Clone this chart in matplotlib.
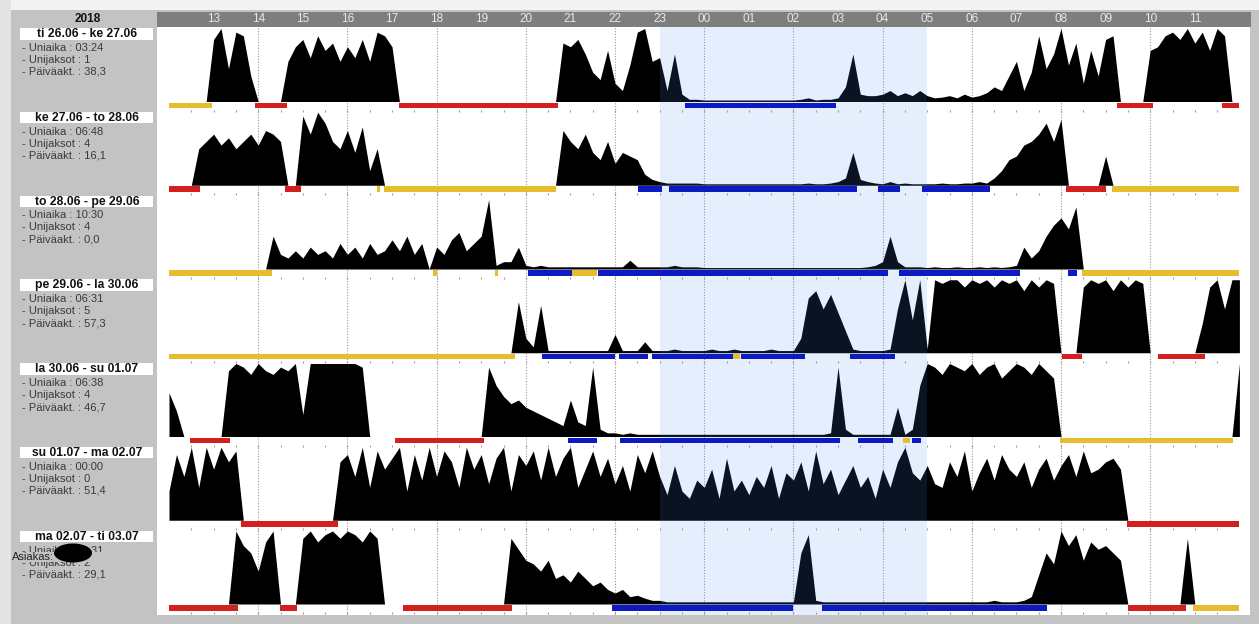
import numpy as np
import matplotlib
matplotlib.use("Agg")
import matplotlib.pyplot as plt
from matplotlib.patches import Rectangle, Ellipse

plt.rcParams['font.family'] = ['Liberation Sans', 'DejaVu Sans']

# --- data -------------------------------------------------------------
year = "2018"
hour_labels = ["13", "14", "15", "16", "17", "18", "19", "20", "21", "22", "23",
               "00", "01", "02", "03", "04", "05", "06", "07", "08", "09", "10", "11"]

day_titles = ["ti 26.06 - ke 27.06", "ke 27.06 - to 28.06", "to 28.06 - pe 29.06",
              "pe 29.06 - la 30.06", "la 30.06 - su 01.07", "su 01.07 - ma 02.07",
              "ma 02.07 - ti 03.07"]
sleep_time = ["03:24", "06:48", "10:30", "06:31", "06:38", "00:00", "08:31"]
sleep_periods = ["1", "4", "4", "5", "4", "0", "2"]
day_activity = ["38,3", "16,1", "0,0", "57,3", "46,7", "51,4", "29,1"]

# activity (% of row height), one value per 10 min from 12:00 to 12:00
act_1 = [0, 0, 0, 0, 0, 0,            # 12
         85, 100, 45, 95, 90, 35,     # 13
         0, 0, 0, 0, 55, 75,          # 14
         85, 60, 90, 70, 80, 55,      # 15
         75, 60, 85, 55, 95, 90,      # 16
         75, 0, 0, 0, 0, 0,           # 17
         0, 0, 0, 0, 0, 0,            # 18
         0, 0, 0, 0, 0, 0,            # 19
         0, 0, 0, 0, 0, 80,           # 20
         75, 85, 65, 40, 30, 70,      # 21
         25, 15, 50, 95, 100, 55,     # 22
         60, 15, 65, 10, 3, 3,        # 23
         2, 2, 2, 2, 2, 2,            # 00
         2, 2, 2, 2, 2, 2,            # 01
         2, 3, 5, 2, 3, 3,            # 02
         5, 20, 65, 10, 8, 8,         # 03
         10, 15, 8, 12, 8, 15,        # 04
         8, 5, 6, 8, 5, 10,           # 05
         6, 8, 12, 20, 15, 35,        # 06
         55, 15, 40, 90, 45, 65,      # 07
         100, 50, 80, 25, 70, 35,     # 08
         85, 90, 0, 0, 0, 0,          # 09
         70, 75, 90, 95, 85, 100,     # 10
         80, 95, 70, 100, 90, 0,      # 11
         0]
act_2 = [0, 0, 0, 0, 50, 60,
         70, 55, 65, 50, 60, 70,
         55, 75, 70, 60, 0, 0,
         95, 70, 100, 85, 60, 50,
         75, 45, 80, 20, 50, 0,
         0, 0, 0, 0, 0, 0,
         0, 0, 0, 0, 0, 0,
         0, 0, 0, 0, 0, 0,
         0, 0, 0, 0, 0, 75,
         60, 50, 70, 45, 35, 60,
         30, 45, 40, 35, 15, 8,
         5, 3, 3, 3, 3, 3,
         2, 2, 2, 2, 2, 2,
         2, 2, 2, 2, 2, 2,
         2, 2, 3, 2, 2, 3,
         5, 10, 45, 8, 5, 3,
         2, 5, 2, 3, 2, 2,
         2, 2, 3, 2, 2, 3,
         3, 5, 3, 10, 20, 35,
         40, 55, 60, 70, 85, 60,
         90, 0, 0, 0, 0, 0,
         40, 0, 0, 0, 0, 0,
         0, 0, 0, 0, 0, 0,
         0, 0, 0, 0, 0, 0,
         0]
act_3 = [0, 0, 0, 0, 0, 0,
         0, 0, 0, 0, 0, 0,
         0, 0, 45, 20, 15, 25,
         15, 30, 20, 25, 15, 35,
         20, 30, 15, 35, 20, 25,
         40, 25, 45, 20, 35, 0,
         30, 20, 40, 50, 25, 35,
         45, 95, 5, 10, 10, 30,
         5, 3, 5, 3, 3, 3,
         3, 3, 3, 3, 3, 3,
         3, 3, 12, 3, 3, 3,
         3, 3, 5, 3, 3, 3,
         2, 2, 2, 2, 2, 2,
         2, 2, 2, 2, 2, 2,
         2, 2, 2, 2, 2, 2,
         2, 2, 2, 2, 3, 5,
         10, 45, 10, 3, 3, 3,
         2, 3, 2, 2, 3, 2,
         2, 3, 2, 3, 2, 3,
         5, 30, 15, 25, 45, 60,
         70, 55, 85, 0, 0, 0,
         0, 0, 0, 0, 0, 0,
         0, 0, 0, 0, 0, 0,
         0, 0, 0, 0, 0, 0,
         0]
act_4 = [0, 0, 0, 0, 0, 0,
         0, 0, 0, 0, 0, 0,
         0, 0, 0, 0, 0, 0,
         0, 0, 0, 0, 0, 0,
         0, 0, 0, 0, 0, 0,
         0, 0, 0, 0, 0, 0,
         0, 0, 0, 0, 0, 0,
         0, 0, 0, 0, 0, 70,
         20, 8, 65, 3, 3, 3,
         3, 3, 3, 3, 3, 3,
         25, 3, 3, 3, 15, 3,
         3, 3, 5, 3, 3, 3,
         3, 5, 3, 3, 5, 3,
         3, 3, 3, 5, 3, 3,
         3, 20, 75, 85, 60, 80,
         55, 30, 5, 3, 3, 3,
         3, 5, 60, 100, 45, 100,
         5, 100, 95, 100, 100, 90,
         100, 95, 100, 90, 100, 95,
         100, 85, 100, 90, 100, 95,
         0, 0, 0, 90, 100, 95,
         100, 85, 100, 90, 100, 95,
         0, 0, 0, 0, 0, 0,
         0, 40, 90, 100, 60, 100,
         100]
act_5 = [60, 35, 0, 0, 0, 0,
         0, 0, 90, 100, 95, 85,
         100, 90, 85, 95, 90, 100,
         30, 100, 100, 100, 100, 100,
         100, 100, 95, 0, 0, 0,
         0, 0, 0, 0, 0, 0,
         0, 0, 0, 0, 0, 0,
         0, 95, 70, 55, 45, 50,
         40, 35, 30, 25, 20, 15,
         50, 20, 15, 95, 10, 5,
         5, 3, 5, 3, 3, 3,
         3, 3, 3, 3, 3, 3,
         3, 3, 3, 3, 3, 3,
         3, 3, 3, 3, 3, 3,
         3, 3, 3, 3, 3, 5,
         95, 10, 3, 3, 3, 3,
         3, 3, 40, 3, 10, 70,
         100, 95, 85, 100, 95, 90,
         100, 85, 95, 100, 80, 90,
         100, 95, 85, 100, 90, 80,
         0, 0, 0, 0, 0, 0,
         0, 0, 0, 0, 0, 0,
         0, 0, 0, 0, 0, 0,
         0, 0, 0, 0, 0, 0,
         100]
act_6 = [40, 90, 60, 100, 45, 100,
         70, 100, 80, 95, 0, 0,
         0, 0, 0, 0, 0, 0,
         0, 0, 0, 0, 0, 80,
         90, 60, 100, 45, 95, 70,
         85, 100, 40, 90, 55, 100,
         60, 95, 80, 45, 100, 70,
         90, 50, 85, 100, 40, 90,
         75, 95, 55, 100, 60, 85,
         100, 45, 70, 95, 60, 85,
         50, 75, 40, 90, 65, 95,
         60, 35, 75, 40, 30, 55,
         45, 70, 30, 85, 40, 55,
         35, 60, 45, 75, 30, 65,
         55, 80, 40, 95, 50, 70,
         35, 55, 75, 45, 60, 30,
         70, 45, 80, 100, 65, 55,
         75, 50, 45, 80, 60, 95,
         40, 65, 85, 55, 90, 70,
         60, 80, 45, 70, 85, 55,
         75, 90, 60, 95, 65, 70,
         80, 85, 70, 0, 0, 0,
         0, 0, 0, 0, 0, 0,
         0, 0, 0, 0, 0, 0,
         0]
act_7 = [0, 0, 0, 0, 0, 0,
         0, 0, 0, 100, 80, 70,
         45, 85, 100, 0, 0, 0,
         90, 100, 85, 95, 100, 90,
         100, 95, 85, 100, 90, 0,
         0, 0, 0, 0, 0, 0,
         0, 0, 0, 0, 0, 0,
         0, 0, 0, 0, 90, 75,
         60, 55, 45, 60, 35, 40,
         30, 45, 35, 25, 30, 20,
         15, 20, 10, 12, 8, 5,
         5, 3, 3, 3, 3, 3,
         3, 3, 3, 3, 3, 3,
         3, 3, 3, 3, 3, 3,
         3, 70, 95, 5, 3, 3,
         3, 3, 3, 3, 3, 3,
         3, 3, 3, 3, 3, 3,
         3, 3, 3, 3, 3, 3,
         3, 3, 3, 5, 3, 3,
         3, 5, 10, 40, 70, 55,
         100, 80, 95, 60, 85, 75,
         80, 70, 60, 0, 0, 0,
         0, 0, 0, 0, 0, 90,
         0, 0, 0, 0, 0, 0,
         0]
activity = [act_1, act_2, act_3, act_4, act_5, act_6, act_7]

# state bars: (start, end) in hours after 12:00
# Y = up / awake, R = off-wrist, B = sleep
bars_1 = [("Y", 0, 0.96), ("R", 1.93, 2.65), ("R", 5.16, 8.72), ("B", 11.57, 14.96),
          ("R", 21.26, 22.06), ("R", 23.61, 24.0)]
bars_2 = [("R", 0, 0.70), ("R", 2.60, 2.96), ("Y", 4.66, 4.73), ("Y", 4.82, 8.68),
          ("B", 10.52, 11.05), ("B", 11.21, 15.42), ("B", 15.90, 16.39), ("B", 16.88, 18.41),
          ("R", 20.11, 21.0), ("Y", 21.14, 24.0)]
bars_3 = [("Y", 0, 2.31), ("Y", 5.92, 6.0), ("Y", 7.31, 7.38), ("B", 8.05, 9.04),
          ("Y", 9.04, 9.60), ("B", 9.62, 16.12), ("B", 16.37, 19.08), ("B", 20.16, 20.36),
          ("Y", 20.47, 24.0)]
bars_4 = [("Y", 0, 7.76), ("B", 8.36, 10.0), ("B", 10.09, 10.74), ("B", 10.83, 12.64),
          ("Y", 12.65, 12.80), ("B", 12.83, 14.26), ("B", 15.27, 16.28), ("R", 20.02, 20.47),
          ("R", 22.17, 23.23)]
bars_5 = [("R", 0.47, 1.37), ("R", 5.07, 7.06), ("B", 8.95, 9.60), ("B", 10.11, 15.04),
          ("B", 15.45, 16.23), ("Y", 16.46, 16.61), ("B", 16.66, 16.86), ("Y", 19.98, 23.86)]
bars_6 = [("R", 1.61, 3.79), ("R", 21.48, 24.0)]
bars_7 = [("R", 0, 1.55), ("R", 2.49, 2.87), ("R", 5.25, 7.69), ("B", 9.93, 13.99),
          ("B", 14.64, 19.69), ("R", 21.50, 22.80), ("Y", 22.96, 24.0)]
state_bars = [bars_1, bars_2, bars_3, bars_4, bars_5, bars_6, bars_7]

bar_colors = {"Y": "#e6bd2c", "R": "#d41f1f", "B": "#0d19c2"}

# --- layout (pixels) --------------------------------------------------
W, H = 1259, 624
ROW0, ROW_STEP, ACT_H = 28.0, 83.75, 73.0
X0, PX_PER_H = 169.0, 44.6


def to_h(px):
    return (px - X0) / PX_PER_H


def px_axes(x0, y0, x1, y1):
    return fig.add_axes([x0 / W, 1 - y1 / H, (x1 - x0) / W, (y1 - y0) / H])


fig = plt.figure(figsize=(W / 100, H / 100), dpi=100, facecolor="#c3c3c3")

bg = px_axes(0, 0, W, H)
bg.set_xlim(0, W)
bg.set_ylim(H, 0)
bg.axis("off")
bg.add_patch(Rectangle((0, 0), W, 10, color="#f3f3f3", lw=0))
bg.add_patch(Rectangle((0, 0), 11, H, color="#e4e4e4", lw=0))
bg.text(88, 19, year, ha="center", va="center", fontsize=8.5, fontweight="bold", color="#111111")

# header with hours
hdr = px_axes(157, 12, 1251, 27)
hdr.set_facecolor("#7e7e7e")
hdr.set_xlim(to_h(157), to_h(1251))
hdr.set_ylim(0, 1)
hdr.set_xticks([])
hdr.set_yticks([])
for s in hdr.spines.values():
    s.set_visible(False)
for i, lab in enumerate(hour_labels):
    hdr.text(i + 1, 0.5, lab, ha="center", va="center", fontsize=8.5, color="#e8e8e8")

# main chart
ax = px_axes(157, 27, 1250, 615)
ax.set_facecolor("white")
ax.set_xlim(to_h(157), to_h(1250))
ax.set_ylim(615, 27)
ax.set_xticks([])
ax.set_yticks([])
for s in ax.spines.values():
    s.set_visible(False)

for h in range(2, 24, 2):
    ax.axvline(h, color="#9a9a9a", lw=0.8, ls=(0, (1, 1.5)), zorder=1)

t = np.arange(145) / 6.0
half_hours = np.arange(1, 48) / 2.0

for k in range(7):
    top = ROW0 + k * ROW_STEP
    base = top + ACT_H + 0.5
    v = np.array(activity[k], dtype=float)
    ax.fill_between(t, base - ACT_H * v / 100.0, base, color="black", lw=0, zorder=2)

    for code, a, b in state_bars[k]:
        ax.add_patch(Rectangle((a, top + 74.5), b - a, 5.5, color=bar_colors[code], lw=0, zorder=6))
    ax.vlines(half_hours, top + 81.5, top + 83.5, color="#9a9a9a", lw=0.8, zorder=4)

    # left panel text
    bg.add_patch(Rectangle((20, top), 133, 11.5, color="white", lw=0))
    bg.text(87, top + 6, day_titles[k], ha="center", va="center", fontsize=8.7,
            fontweight="bold", color="#111111")
    bg.text(22, top + 20, "- Uniaika : " + sleep_time[k], va="center", fontsize=8, color="#3a3a3a")
    bg.text(22, top + 32, "- Unijaksot : " + sleep_periods[k], va="center", fontsize=8, color="#3a3a3a")
    bg.text(22, top + 44, "- Päiväakt. : " + day_activity[k], va="center", fontsize=8, color="#3a3a3a")

# night shading 23-05
ax.axvspan(11, 17, color="#428cf5", alpha=0.14, lw=0, zorder=3)

# client label, name blacked out
bg.add_patch(Rectangle((11, 551.5), 92, 10, color="#c3c3c3", lw=0, zorder=5))
bg.text(12, 557, "Asiakas:", va="center", fontsize=8, color="#222222", zorder=6)
bg.add_patch(Ellipse((73, 553), 38, 19, color="black", lw=0, zorder=7))

fig.savefig("out.png", dpi=100, facecolor=fig.get_facecolor())
